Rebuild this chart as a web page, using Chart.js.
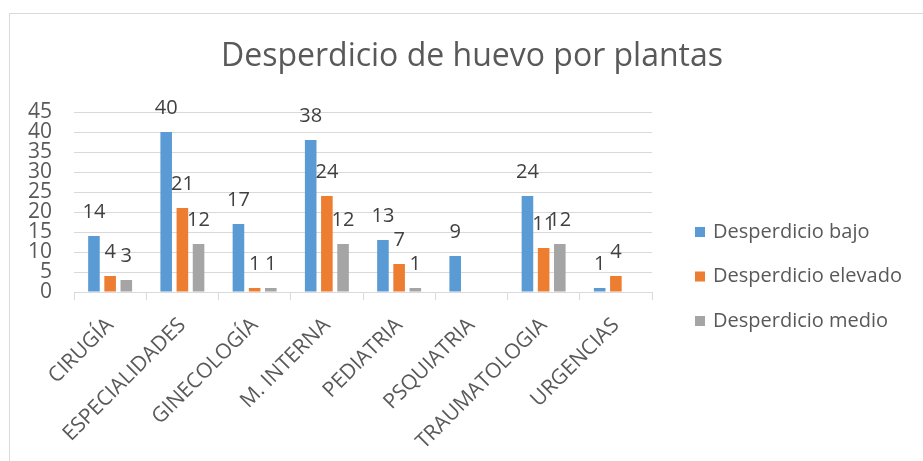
<!DOCTYPE html>
<html lang="es">
<head>
<meta charset="utf-8">
<title>Desperdicio de huevo por plantas</title>
<script src="https://cdn.jsdelivr.net/npm/chart.js@4.4.1/dist/chart.umd.min.js"></script>
<style>
    html, body { margin: 0; padding: 0; background: #fff; }
    #wrap { position: relative; width: 923px; height: 461px; overflow: hidden; }
    #frame {
        position: absolute; left: 9px; top: 13px; right: -2px; bottom: -2px;
        border-left: 1px solid #d9d9d9; border-top: 1px solid #d9d9d9;
        pointer-events: none;
    }
    canvas { position: absolute; left: 0; top: 0; }
</style>
</head>
<body>
<div id="wrap">
    <canvas id="wasteChart" width="923" height="461"></canvas>
    <div id="frame"></div>
</div>
<script>
// ================================
// DATA
// ================================
const TITLE = 'Desperdicio de huevo por plantas';
const plantas = ['CIRUGÍA', 'ESPECIALIDADES', 'GINECOLOGÍA', 'M. INTERNA', 'PEDIATRIA', 'PSQUIATRIA', 'TRAUMATOLOGIA', 'URGENCIAS'];
const seriesNames = ['Desperdicio bajo', 'Desperdicio elevado', 'Desperdicio medio'];
const bajo    = [14, 40, 17, 38, 13, 9, 24, 1];
const elevado = [4, 21, 1, 24, 7, null, 11, 4];
const medio   = [3, 12, 1, 12, 1, null, 12, null];
const yTicks = { min: 0, max: 45, step: 5 };

// ================================
// CONFIG
// ================================
const COLORS = ['#5B9BD5', '#ED7D31', '#A5A5A5'];
const FONT = '"Open Sans", sans-serif';
const TEXT = '#595959';
const GRID = '#d9d9d9';

// plot box on the canvas
const PLOT = { left: 74, right: 652, top: 112, bottom: 292 };

// ================================
// PLUGIN: title, value labels, legend
// ================================
const decorPlugin = {
    id: 'decor',
    afterDatasetsDraw(chart) {
        const ctx = chart.ctx;
        ctx.save();

        // value labels above each bar
        ctx.font = `20px ${FONT}`;
        ctx.fillStyle = '#404040';
        ctx.textAlign = 'center';
        ctx.textBaseline = 'middle';
        chart.data.datasets.forEach((ds, i) => {
            const meta = chart.getDatasetMeta(i);
            meta.data.forEach((bar, j) => {
                const v = ds.data[j];
                if (v === null || v === undefined) return;
                ctx.fillText(String(Math.round(v)), bar.x, bar.y - 24);
            });
        });

        // title
        ctx.font = `32px ${FONT}`;
        ctx.fillStyle = TEXT;
        ctx.fillText(TITLE, 472, 57);

        // legend
        ctx.font = `20px ${FONT}`;
        ctx.textAlign = 'left';
        chart.data.datasets.forEach((ds, i) => {
            const y = 232 + i * 44.5;
            ctx.fillStyle = ds.backgroundColor;
            ctx.fillRect(695, y - 5, 10, 10);
            ctx.fillStyle = TEXT;
            ctx.fillText(ds.label, 713, y);
        });

        ctx.restore();
    }
};

// ================================
// CHART
// ================================
const canvas = document.getElementById('wasteChart');

const datasets = [bajo, elevado, medio].map((values, i) => ({
    label: seriesNames[i],
    data: values,
    backgroundColor: COLORS[i],
    borderWidth: 0,
    categoryPercentage: 0.672,
    barPercentage: 0.716
}));

new Chart(canvas, {
    type: 'bar',
    data: { labels: plantas, datasets },
    options: {
        responsive: false,
        animation: false,
        devicePixelRatio: 1,
        layout: {
            padding: { top: PLOT.top, right: canvas.width - PLOT.right, bottom: 0, left: 0 }
        },
        plugins: {
            legend: { display: false },
            title: { display: false },
            tooltip: { enabled: false }
        },
        scales: {
            x: {
                offset: true,
                grid: {
                    offset: true,
                    drawOnChartArea: false,
                    drawTicks: true,
                    tickLength: 8,
                    color: GRID
                },
                border: { color: GRID, width: 1 },
                ticks: {
                    color: TEXT,
                    font: { family: FONT, size: 21 },
                    maxRotation: 45,
                    minRotation: 45,
                    autoSkip: false,
                    padding: 13
                },
                afterFit(scale) {
                    scale.height = canvas.height - PLOT.bottom;
                }
            },
            y: {
                min: yTicks.min,
                max: yTicks.max,
                grid: { color: GRID, drawTicks: false },
                border: { display: false },
                ticks: {
                    stepSize: yTicks.step,
                    autoSkip: false,
                    color: TEXT,
                    font: { family: FONT, size: 21, lineHeight: 1 },
                    padding: 22
                },
                afterFit(scale) {
                    scale.width = PLOT.left;
                }
            }
        }
    },
    plugins: [decorPlugin]
});
</script>
</body>
</html>
